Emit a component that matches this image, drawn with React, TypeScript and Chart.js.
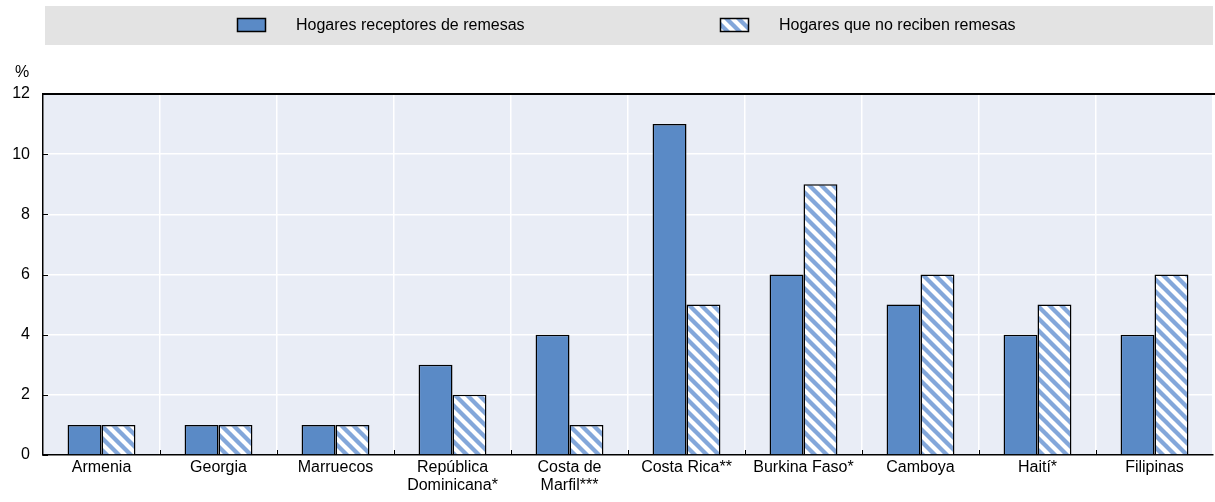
import React, { useEffect, useRef } from "react";
import { Chart, registerables } from "chart.js";

Chart.register(...registerables);

const categories: (string | string[])[] = [
  "Armenia",
  "Georgia",
  "Marruecos",
  ["República", "Dominicana*"],
  ["Costa de", "Marfil***"],
  "Costa Rica**",
  "Burkina Faso*",
  "Camboya",
  "Haití*",
  "Filipinas",
];
const receptores = [1, 1, 1, 3, 4, 11, 6, 5, 4, 4];
const noReciben = [1, 1, 1, 2, 1, 5, 9, 6, 5, 6];
const seriesLabels = ["Hogares receptores de remesas", "Hogares que no reciben remesas"];
const yTicks = [0, 2, 4, 6, 8, 10, 12];

const FONT = "'Liberation Sans', Arial, sans-serif";
const SOLID = "#5a8ac6";
const STRIPE = "#83a7da";

function makePattern(): CanvasPattern | string {
  const s = 12;
  const c = document.createElement("canvas");
  c.width = s;
  c.height = s;
  const g = c.getContext("2d");
  if (!g) return STRIPE;
  g.fillStyle = "#ffffff";
  g.fillRect(0, 0, s, s);
  g.strokeStyle = STRIPE;
  g.lineWidth = 4.3;
  for (let k = -1; k <= 1; k++) {
    g.beginPath();
    g.moveTo(k * s - 2, -2);
    g.lineTo(k * s + s + 2, s + 2);
    g.stroke();
  }
  const p = g.createPattern(c, "repeat");
  return p || STRIPE;
}

export default function App() {
  const ref = useRef<HTMLCanvasElement | null>(null);

  useEffect(() => {
    document.body.style.margin = "0";
    if (!ref.current) return;
    const pattern = makePattern();

    const decor = {
      id: "decor",
      beforeDraw(chart: any) {
        const { ctx, chartArea } = chart;
        ctx.save();
        ctx.fillStyle = "#e9edf6";
        ctx.fillRect(chartArea.left, chartArea.top, chartArea.right - chartArea.left, chartArea.bottom - chartArea.top);
        // legend band
        ctx.fillStyle = "#e3e3e3";
        ctx.fillRect(45, 6, chart.width - 47, 39);
        const items = [
          { x: 237, fill: SOLID as any },
          { x: 720, fill: pattern as any },
        ];
        ctx.font = `16px ${FONT}`;
        ctx.textBaseline = "middle";
        items.forEach((it, i) => {
          ctx.fillStyle = it.fill;
          ctx.fillRect(it.x, 18, 29, 14);
          ctx.strokeStyle = "#000";
          ctx.lineWidth = 1.5;
          ctx.strokeRect(it.x + 0.5, 18.5, 28, 13);
          ctx.fillStyle = "#000";
          ctx.fillText(seriesLabels[i], it.x + 59, 26);
        });
        // % label
        ctx.textAlign = "left";
        ctx.fillText("%", 15, 73);
        ctx.restore();
      },
      afterDraw(chart: any) {
        const { ctx, chartArea, scales } = chart;
        ctx.save();
        ctx.strokeStyle = "#000";
        ctx.lineWidth = 1;
        yTicks.forEach((v) => {
          const y = Math.round(scales.y.getPixelForValue(v)) + 0.5;
          ctx.beginPath();
          ctx.moveTo(chartArea.left, y);
          ctx.lineTo(chartArea.left + 5, y);
          ctx.stroke();
        });
        const n = categories.length;
        const w = (chartArea.right - chartArea.left) / n;
        for (let i = 1; i < n; i++) {
          const x = Math.round(chartArea.left + i * w) + 0.5;
          ctx.beginPath();
          ctx.moveTo(x, chartArea.bottom);
          ctx.lineTo(x, chartArea.bottom - 5);
          ctx.stroke();
        }
        ctx.lineWidth = 2;
        ctx.beginPath();
        ctx.moveTo(chartArea.left, chartArea.top);
        ctx.lineTo(chart.width, chartArea.top);
        ctx.stroke();
        ctx.restore();
      },
    };

    const chart = new Chart(ref.current, {
      type: "bar",
      data: {
        labels: categories as any,
        datasets: [
          {
            label: seriesLabels[0],
            data: receptores,
            backgroundColor: SOLID,
            borderColor: "#000",
            borderWidth: 1.5,
            barPercentage: 1,
            categoryPercentage: 0.58,
          },
          {
            label: seriesLabels[1],
            data: noReciben,
            backgroundColor: pattern as any,
            borderColor: "#000",
            borderWidth: 1.5,
            barPercentage: 1,
            categoryPercentage: 0.58,
          },
        ],
      },
      options: {
        animation: false,
        responsive: true,
        maintainAspectRatio: false,
        layout: { padding: { top: 94, right: 2, left: 0, bottom: 0 } },
        plugins: {
          legend: { display: false },
          tooltip: { enabled: false },
        },
        scales: {
          x: {
            grid: { color: "#ffffff", lineWidth: 1.5, drawTicks: false, offset: true },
            border: { color: "#000", width: 1.5 },
            ticks: { color: "#000", font: { family: FONT, size: 16, lineHeight: 1.15 }, padding: 3, maxRotation: 0, autoSkip: false },
            afterFit: (s: any) => {
              s.height = 47;
            },
          },
          y: {
            min: 0,
            max: 12,
            ticks: { stepSize: 2, color: "#000", font: { family: FONT, size: 16 }, padding: 13 },
            grid: { color: "#ffffff", lineWidth: 1.5, drawTicks: false },
            border: { color: "#000", width: 1.5 },
            afterFit: (s: any) => {
              s.width = 43;
            },
          },
        },
      },
      plugins: [decor],
    });
    return () => chart.destroy();
  }, []);

  return (
    <div style={{ width: 1215, height: 502, position: "relative" }}>
      <canvas ref={ref} />
    </div>
  );
}
